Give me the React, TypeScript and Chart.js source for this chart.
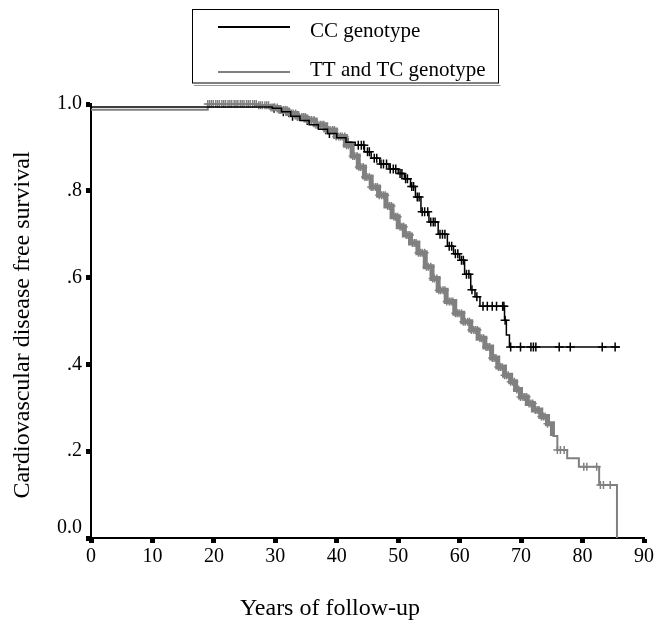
import React, { useEffect, useRef } from "react";
import { Chart, registerables } from "chart.js";

Chart.register(...registerables);

const X_TICKS = [0, 10, 20, 30, 40, 50, 60, 70, 80, 90];
const Y_TICK_VALUES = [0, 0.2, 0.4, 0.6, 0.8, 1.0];
const Y_TICK_LABELS = ["0.0", ".2", ".4", ".6", ".8", "1.0"];
const SERIES_LABELS = ["CC genotype", "TT and TC genotype"];
const X_TITLE = "Years of follow-up";
const Y_TITLE = "Cardiovascular disease free survival";

// CC genotype: Kaplan-Meier step points (time, survival)
const CC_TIME = [0, 29.5, 31, 32.5, 34, 35.5, 37, 38.5, 40, 41.5, 43, 44.5, 45.6, 47, 48.5, 50, 51, 52, 52.8, 53.7, 55, 56.5, 58, 59, 60, 60.8, 61.8, 62.5, 63.3, 67.3, 67.6, 68.1, 86.1];
const CC_SURV = [0.993, 0.99, 0.982, 0.972, 0.962, 0.952, 0.942, 0.932, 0.922, 0.912, 0.905, 0.89, 0.875, 0.862, 0.85, 0.84, 0.828, 0.81, 0.786, 0.752, 0.728, 0.7, 0.672, 0.655, 0.64, 0.608, 0.572, 0.556, 0.534, 0.502, 0.468, 0.44, 0.44];
const CC_CENSOR = [29.8, 31.3, 32.8, 35.2, 38.8, 41.8, 43.5, 44.0, 44.4, 45.0, 45.3, 46.1, 46.5, 47.2, 47.6, 48.1, 48.7, 49.2, 49.6, 50.3, 50.6, 51.2, 51.5, 52.2, 52.5, 53.1, 53.4, 53.9, 54.3, 54.8, 55.3, 55.7, 56.0, 56.8, 57.2, 57.6, 58.3, 58.7, 59.3, 59.7, 60.3, 60.6, 61.1, 61.5, 62.0, 62.8, 63.8, 64.5, 65.3, 66.0, 67.0, 67.2, 67.4, 68.3, 69.9, 71.6, 72.0, 72.4, 76.2, 78.0, 83.2, 85.3];

// TT and TC genotype: Kaplan-Meier step points (time, survival)
const TT_TIME = [0, 19, 27, 29, 30.6, 32, 33.5, 35, 36.5, 38.2, 39.8, 41.4, 42.5, 43.5, 44.5, 45.6, 46.8, 48, 49, 50, 51, 52, 53.2, 54.4, 55.5, 56.5, 57.8, 59.2, 60.5, 61.8, 63, 64.1, 65.2, 66.2, 67.3, 68.3, 69.1, 69.9, 71, 72, 73.2, 74.3, 75.1, 75.9, 77.5, 79.4, 82.7, 85.6];
const TT_SURV = [0.987, 1.0, 0.997, 0.992, 0.986, 0.978, 0.97, 0.963, 0.952, 0.94, 0.925, 0.905, 0.88, 0.855, 0.832, 0.809, 0.79, 0.765, 0.74, 0.717, 0.698, 0.68, 0.657, 0.625, 0.598, 0.571, 0.545, 0.518, 0.498, 0.479, 0.46, 0.44, 0.415, 0.394, 0.375, 0.36, 0.342, 0.325, 0.31, 0.295, 0.28, 0.263, 0.235, 0.203, 0.184, 0.164, 0.122, 0];
const TT_CENSOR = [19.0, 19.3, 19.6, 19.9, 20.3, 20.6, 20.9, 21.3, 21.6, 21.9, 22.3, 22.6, 22.9, 23.3, 23.6, 23.9, 24.3, 24.6, 24.9, 25.3, 25.6, 25.9, 26.3, 26.6, 26.9, 27.3, 27.6, 27.9, 28.3, 28.6, 28.9, 29.3, 29.6, 29.9, 30.3, 30.6, 30.9, 31.3, 31.6, 31.9, 32.3, 32.6, 32.9, 33.3, 33.6, 33.9, 34.3, 34.6, 34.9, 35.3, 35.6, 35.9, 36.3, 36.6, 36.9, 37.3, 37.6, 37.9, 38.3, 38.6, 38.9, 39.3, 39.6, 39.9, 40.3, 40.6, 40.9, 41.3, 41.6, 41.9, 42.3, 42.6, 42.9, 43.3, 43.6, 43.9, 44.3, 44.6, 44.9, 45.3, 45.6, 45.9, 46.3, 46.6, 46.9, 47.3, 47.6, 47.9, 48.3, 48.6, 48.9, 49.3, 49.6, 49.9, 50.3, 50.6, 50.9, 51.3, 51.6, 51.9, 52.3, 52.6, 52.9, 53.3, 53.6, 53.9, 54.3, 54.6, 54.9, 55.3, 55.6, 55.9, 56.3, 56.6, 56.9, 57.3, 57.6, 57.9, 58.3, 58.6, 58.9, 59.3, 59.6, 59.9, 60.3, 60.6, 60.9, 61.3, 61.6, 61.9, 62.3, 62.6, 62.9, 63.3, 63.6, 63.9, 64.3, 64.6, 64.9, 65.3, 65.6, 65.9, 66.3, 66.6, 66.9, 67.3, 67.6, 67.9, 68.3, 68.6, 68.9, 69.3, 69.6, 69.9, 70.3, 70.6, 70.9, 71.3, 71.6, 71.9, 72.3, 72.6, 72.9, 73.3, 73.6, 73.9, 74.3, 75.9, 76.4, 77.0, 80.2, 80.7, 82.3, 82.9, 83.4, 84.5];

const BLACK = "#000000";
const GREY = "#808080";
const FONT = "'Liberation Serif', 'Times New Roman', serif";

function survAt(times: number[], surv: number[], t: number): number {
  let v = surv[0];
  for (let i = 0; i < times.length; i++) {
    if (times[i] <= t) v = surv[i];
    else break;
  }
  return v;
}

const overlayPlugin = {
  id: "overlay",
  afterDraw(chart: any) {
    const ctx = chart.ctx as CanvasRenderingContext2D;
    const yScale = chart.scales.y;
    ctx.save();
    ctx.fillStyle = BLACK;
    ctx.font = `20px ${FONT}`;
    ctx.textAlign = "right";
    ctx.textBaseline = "middle";
    Y_TICK_VALUES.forEach((v, i) => {
      const py = yScale.getPixelForValue(v) + (v === 0 ? -10 : 0);
      ctx.fillText(Y_TICK_LABELS[i], 82, py);
    });
    ctx.font = `24px ${FONT}`;
    ctx.textAlign = "center";
    ctx.textBaseline = "alphabetic";
    ctx.fillText(X_TITLE, 330, 615);
    ctx.save();
    ctx.translate(29, 325);
    ctx.rotate(-Math.PI / 2);
    ctx.fillText(Y_TITLE, 0, 0);
    ctx.restore();
    ctx.strokeStyle = "#9a9a9a";
    ctx.lineWidth = 1;
    ctx.beginPath();
    ctx.moveTo(194, 85.5);
    ctx.lineTo(500.5, 85.5);
    ctx.stroke();
    ctx.strokeStyle = BLACK;
    ctx.strokeRect(192.5, 9.5, 306, 73.5);
    const colors = [BLACK, GREY];
    const lineYs = [27, 72];
    const textYs = [37, 76];
    SERIES_LABELS.forEach((lab, i) => {
      ctx.strokeStyle = colors[i];
      ctx.lineWidth = 2;
      ctx.beginPath();
      ctx.moveTo(218, lineYs[i]);
      ctx.lineTo(290, lineYs[i]);
      ctx.stroke();
      ctx.fillStyle = BLACK;
      ctx.font = `21px ${FONT}`;
      ctx.textAlign = "left";
      ctx.textBaseline = "alphabetic";
      ctx.fillText(lab, 310, textYs[i]);
    });
    ctx.restore();
  },
};

export default function App() {
  const ref = useRef<HTMLCanvasElement | null>(null);
  useEffect(() => {
    if (!ref.current) return;
    const ttLine = TT_TIME.map((t, i) => ({ x: t, y: TT_SURV[i] }));
    const ccLine = CC_TIME.map((t, i) => ({ x: t, y: CC_SURV[i] }));
    const ttMarks = TT_CENSOR.map((t) => ({ x: t, y: survAt(TT_TIME, TT_SURV, t) }));
    const ccMarks = CC_CENSOR.map((t) => ({ x: t, y: survAt(CC_TIME, CC_SURV, t) }));
    const chart = new Chart(ref.current, {
      type: "line",
      data: {
        datasets: [
          {
            label: SERIES_LABELS[0],
            data: ccLine,
            borderColor: BLACK,
            borderWidth: 1.5,
            stepped: "before",
            pointRadius: 0,
            fill: false,
            clip: false,
          },
          {
            label: SERIES_LABELS[1],
            data: ttLine,
            borderColor: GREY,
            borderWidth: 2,
            stepped: "before",
            pointRadius: 0,
            fill: false,
            clip: false,
            segment: {
              borderWidth: (c: any) =>
                c.p0.parsed.x >= 28 && c.p1.parsed.x <= 75.2 ? 5 : 2,
            },
          },
          {
            label: SERIES_LABELS[1] + " censored",
            data: ttMarks,
            showLine: false,
            clip: false,
            pointStyle: "cross",
            pointRadius: 4,
            pointBorderWidth: 1.5,
            pointBorderColor: GREY,
            borderColor: GREY,
          },
          {
            label: SERIES_LABELS[0] + " censored",
            data: ccMarks,
            showLine: false,
            clip: false,
            pointStyle: "cross",
            pointRadius: 4.5,
            pointBorderWidth: 1.5,
            pointBorderColor: BLACK,
            borderColor: BLACK,
          },
        ],
      },
      options: {
        responsive: false,
        animation: false,
        layout: { padding: { left: 0, top: 104, right: 9, bottom: 0 } },
        plugins: { legend: { display: false }, tooltip: { enabled: false } },
        scales: {
          x: {
            type: "linear",
            min: 0,
            max: 90,
            afterBuildTicks: (scale: any) => {
              scale.ticks = X_TICKS.map((v) => ({ value: v }));
            },
            afterFit: (scale: any) => {
              scale.height = 89;
            },
            ticks: {
              autoSkip: false,
              maxRotation: 0,
              color: BLACK,
              padding: 2,
              font: { family: FONT, size: 20 },
              callback: (v: any) => String(v),
            },
            grid: {
              drawOnChartArea: false,
              drawTicks: true,
              tickLength: 5,
              tickWidth: 5,
              tickColor: BLACK,
            },
            border: { display: true, color: BLACK, width: 2 },
          },
          y: {
            type: "linear",
            min: 0,
            max: 1,
            afterBuildTicks: (scale: any) => {
              scale.ticks = Y_TICK_VALUES.map((v) => ({ value: v }));
            },
            afterFit: (scale: any) => {
              scale.width = 91;
            },
            ticks: { display: false },
            grid: {
              drawOnChartArea: false,
              drawTicks: true,
              tickLength: 5,
              tickWidth: 5,
              tickColor: BLACK,
            },
            border: { display: true, color: BLACK, width: 2 },
          },
        },
      },
      plugins: [overlayPlugin],
    });
    return () => chart.destroy();
  }, []);
  return (
    <div style={{ position: "absolute", left: 0, top: 0, width: 656, height: 627, background: "#fff" }}>
      <canvas ref={ref} width={656} height={627} style={{ display: "block" }} />
    </div>
  );
}
